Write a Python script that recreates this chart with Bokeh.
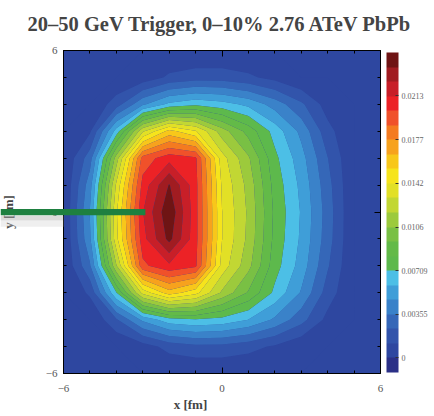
import numpy as np
from bokeh.plotting import figure
from bokeh.models import (LinearColorMapper, ColorBar, FixedTicker, LinearAxis,
                          BoxAnnotation, Range1d)
from bokeh.embed import file_html
from bokeh.resources import INLINE

# ---- data ----
x_fm = [-6, -5, -4, -3, -2, -1, 0, 1, 2, 3, 4, 5, 6]
y_fm = [6, 5, 4, 3, 2, 1, 0, -1, -2, -3, -4, -5, -6]   # row order below
row_y6  = [0, 0, 0, 0, 0, 0, 0, 0, 0, 0, 0, 0, 0]
row_y5  = [0, 0, 0, 0.0004, 0.0014, 0.0018, 0.0018, 0.0014, 0.0008, 0, 0, 0, 0]
row_y4  = [0, 0, 0.0018, 0.0045, 0.0062, 0.0068, 0.0064, 0.0056, 0.0042, 0.0026, 0.0006, 0, 0]
row_y3  = [0, 0.0010, 0.0064, 0.0128, 0.0158, 0.0143, 0.0112, 0.0090, 0.0066, 0.0044, 0.0016, 0, 0]
row_y2  = [0, 0.0030, 0.0112, 0.0194, 0.0208, 0.0203, 0.0135, 0.0108, 0.0074, 0.0052, 0.0024, 0, 0]
row_y1  = [0, 0.0042, 0.0132, 0.0205, 0.0237, 0.0205, 0.0140, 0.0114, 0.0078, 0.0056, 0.0028, 0, 0]
row_y0  = [0, 0.0048, 0.0140, 0.0212, 0.0246, 0.0205, 0.0142, 0.0116, 0.0080, 0.0058, 0.0030, 0, 0]
row_ym1 = [0, 0.0045, 0.0138, 0.0208, 0.0240, 0.0205, 0.0142, 0.0115, 0.0079, 0.0057, 0.0029, 0, 0]
row_ym2 = [0, 0.0034, 0.0117, 0.0198, 0.0210, 0.0203, 0.0137, 0.0110, 0.0076, 0.0054, 0.0025, 0, 0]
row_ym3 = [0, 0.0014, 0.0070, 0.0134, 0.0160, 0.0146, 0.0116, 0.0093, 0.0068, 0.0046, 0.0018, 0, 0]
row_ym4 = [0, 0, 0.0022, 0.0050, 0.0066, 0.0070, 0.0067, 0.0059, 0.0045, 0.0028, 0.0008, 0, 0]
row_ym5 = [0, 0, 0, 0.0006, 0.0016, 0.0020, 0.0020, 0.0016, 0.0010, 0.0002, 0, 0, 0]
row_ym6 = [0, 0, 0, 0, 0, 0, 0, 0, 0, 0, 0, 0, 0]

cbar_ticks = [0, 0.00355, 0.00709, 0.0106, 0.0142, 0.0177, 0.0213]
cbar_labels = ["0", "0.00355", "0.00709", "0.0106", "0.0142", "0.0177", "0.0213"]
axis_ticks = [-6, 0, 6]
minor_ticks = [-6, -5, -4, -3, -2, -1, 0, 1, 2, 3, 4, 5, 6]
z_low, z_high = -0.00118, 0.0248      # colour scale: one band below zero, 21 above
jet_end_x, jet_y = -2.9, 0.0          # green jet line (fm)

title_text = "20\u201350 GeV Trigger, 0\u201310% 2.76 ATeV PbPb"

palette = ["#2b3087", "#2e47a0", "#3254ab", "#3567b8", "#3a82c9", "#3f9ed8",
           "#4cbfe6", "#5db94c", "#63ba48", "#79c044", "#9cca3c", "#c2d733",
           "#e2e026", "#f6e41c", "#f8c71a", "#f7a21d", "#f47b20", "#f0512a",
           "#ec2226", "#c81f28", "#a11c21", "#6f1414"]

rows = [row_y6, row_y5, row_y4, row_y3, row_y2, row_y1, row_y0,
        row_ym1, row_ym2, row_ym3, row_ym4, row_ym5, row_ym6]
z = np.array(rows)[::-1]
ys = np.array(y_fm)[::-1]
levels = np.linspace(z_low, z_high, len(palette) + 1)

# layout: the frame reaches the page's left edge (so the green line can start
# there) and a little above/below the [-6, 6] box so the y tick labels fit.
BOX_W, BOX_H = 317, 323          # pixel size of the [-6, 6] box
PAD_Y = 10                       # frame extends this many px above/below the box
x_view = (-6 - 63 * 12 / BOX_W, 6)
y_view = (-6 - PAD_Y * 12 / BOX_H, 6 + PAD_Y * 12 / BOX_H)
SERIF = "Liberation Serif"

p = figure(width=434, height=416, x_range=Range1d(*x_view), y_range=Range1d(*y_view),
           output_backend="svg", toolbar_location=None,
           min_border_left=0, min_border_right=54,
           min_border_top=50 - PAD_Y, min_border_bottom=416 - 373 - PAD_Y,
           x_axis_label="x [fm]", y_axis_label="y [fm]")
p.background_fill_color = "white"
p.border_fill_color = "white"
p.outline_line_color = None
p.grid.visible = False

p.add_layout(BoxAnnotation(left=-6, right=6, bottom=-6, top=6, fill_color=palette[1],
                           fill_alpha=1, line_color=None, level="underlay"))
p.contour(x_fm, ys, z, levels=list(levels[1:]), fill_color=palette[1:])
p.add_layout(BoxAnnotation(left=-6, right=6, bottom=-6, top=6, fill_alpha=0,
                           line_color="black", line_width=1))

def style_axis(ax, labels=True, ticks=True):
    ax.ticker = FixedTicker(ticks=axis_ticks, minor_ticks=minor_ticks)
    ax.bounds = (-6, 6)
    ax.major_tick_in = 6
    ax.major_tick_out = 0
    ax.minor_tick_in = 3
    ax.minor_tick_out = 0
    ax.axis_line_color = "black" if ticks else None
    ax.major_tick_line_color = "black" if ticks else None
    ax.minor_tick_line_color = "black" if ticks else None
    ax.major_label_text_font = SERIF
    ax.major_label_text_font_size = "11px" if labels else "1px"
    ax.major_label_text_color = "#555555" if labels else None
    ax.major_label_overrides = {-6: "\u22126", 0: "0", 6: "6"}
    ax.axis_label_text_font = SERIF
    ax.axis_label_text_font_style = "bold"
    ax.axis_label_text_font_size = "13px"

# bottom: labels in the panel below the frame, ticks on the box edge
for ax in p.xaxis:
    style_axis(ax, labels=True, ticks=False)
    ax.major_label_standoff = 1
    ax.axis_label_standoff = 2
bottom_ticks = LinearAxis()
style_axis(bottom_ticks, labels=False)
bottom_ticks.fixed_location = -6
p.add_layout(bottom_ticks, "below")

for ax in p.yaxis:
    style_axis(ax)
    ax.fixed_location = -6
    ax.major_label_standoff = 6
    ax.axis_label_standoff = 27

top_ax = LinearAxis()
style_axis(top_ax, labels=False)
top_ax.fixed_location = 6
p.add_layout(top_ax, "above")

right_ax = LinearAxis()
style_axis(right_ax, labels=False)
right_ax.major_label_standoff = 0
p.add_layout(right_ax, "right")
# invisible spacer between the frame and the colour bar
spacer_ax = LinearAxis(axis_line_color=None, major_tick_line_color=None,
                       minor_tick_line_color=None, major_tick_out=6, major_tick_in=0,
                       minor_tick_out=0, major_label_text_color=None,
                       major_label_text_font_size="1px", major_label_standoff=0,
                       ticker=FixedTicker(ticks=axis_ticks))
p.add_layout(spacer_ax, "right")

mapper = LinearColorMapper(palette=palette, low=z_low, high=z_high)
cb = ColorBar(color_mapper=mapper, ticker=FixedTicker(ticks=cbar_ticks),
              major_label_overrides={t: l for t, l in zip(cbar_ticks, cbar_labels)},
              width=12, height=320, location="center_left",
              padding=0, margin=0, label_standoff=3,
              major_label_text_font_size="8px", major_label_text_font=SERIF,
              major_label_text_color="#666666",
              major_tick_line_color="#333333", major_tick_in=3, major_tick_out=0,
              bar_line_color=None, background_fill_alpha=0)
p.add_layout(cb, "right")

p.title.text = title_text
p.title.text_font = SERIF
p.title.text_font_style = "bold"
p.title.text_font_size = "20.5px"
p.title.align = "left"
p.title.offset = 27
p.title.standoff = 12

# soft shadow and green jet line (start at the page's left edge)
p.add_layout(BoxAnnotation(left=x_view[0], right=-6, top=jet_y - 0.14, bottom=jet_y - 0.32,
                           fill_color="#b0b0b0", fill_alpha=0.45, line_color=None))
p.add_layout(BoxAnnotation(left=x_view[0], right=-6, top=jet_y - 0.32, bottom=jet_y - 0.55,
                           fill_color="#d0d0d0", fill_alpha=0.35, line_color=None))
p.add_layout(BoxAnnotation(left=x_view[0], right=jet_end_x, top=jet_y + 0.11,
                           bottom=jet_y - 0.12, fill_color="#1e8040", fill_alpha=1,
                           line_color=None))

open("out.html", "w").write(file_html(p, INLINE))
